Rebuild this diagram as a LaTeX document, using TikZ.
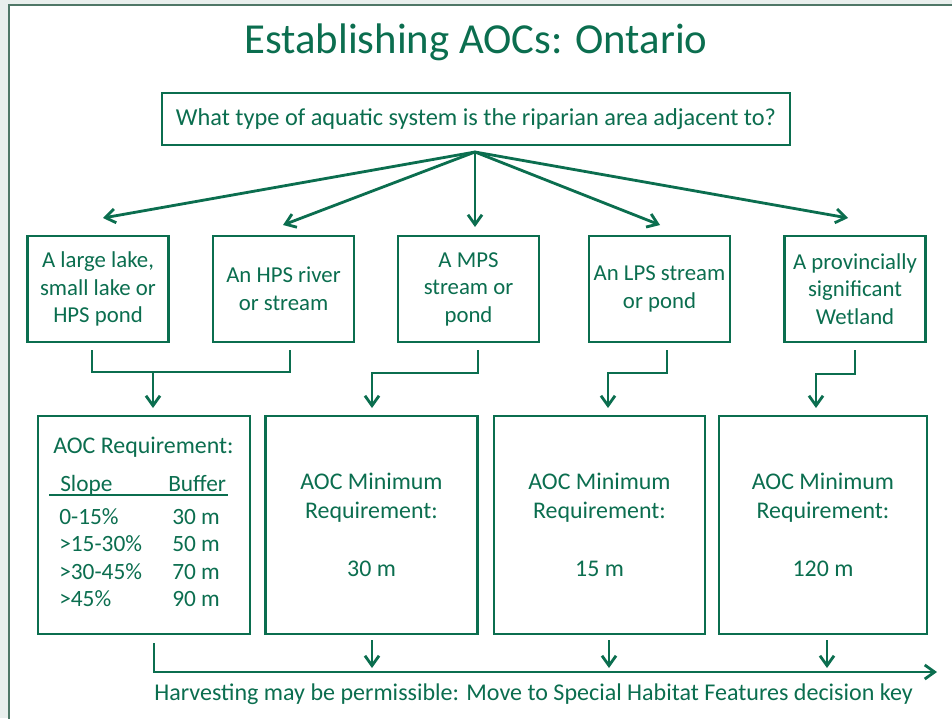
\documentclass[tikz,border=0pt]{standalone}
\usepackage{fontspec}
\setmainfont{Carlito}
\usetikzlibrary{arrows.meta,positioning}

\definecolor{aocgreen}{HTML}{0B6E4F}
\definecolor{slidebg}{HTML}{E9EFED}
\definecolor{slideedge}{HTML}{4F7767}
\newcommand{\pxu}{0.025cm}

\begin{document}
\begin{tikzpicture}[x=0.025cm,y=-0.025cm,
    choice/.style={draw=aocgreen,line width=1.6pt,text=aocgreen,align=center,
        minimum width=141*\pxu,minimum height=106*\pxu,
        font=\fontsize{16.2}{19.6}\selectfont},
    result/.style={draw=aocgreen,line width=1.6pt,text=aocgreen,align=center,
        minimum height=218*\pxu,font=\fontsize{17}{20.6}\selectfont},
    cell/.style={text=aocgreen,inner sep=0pt,anchor=base west,font=\fontsize{16.6}{20.6}\selectfont},
    wire/.style={draw=aocgreen,line width=2pt},
    arr/.style={wire,-{Straight Barb[length=7pt,width=10pt]}}]
    \clip (0,0) rectangle (952,718);
    \fill[slidebg] (0,0) rectangle (952,718);
    \draw[slideedge,fill=white,line width=0.8pt] (9,5) rectangle (970,740);

    \node[text=aocgreen,font=\fontsize{30.4}{36}\selectfont] (title) at (476,42) {Establishing AOCs: Ontario};
    \node[draw=aocgreen,line width=1.6pt,text=aocgreen,minimum width=628*\pxu,minimum height=52*\pxu,
        font=\fontsize{17.3}{20}\selectfont] (question) at (476,119)
        {What type of aquatic system is the riparian area adjacent to?};
    \coordinate (fan) at (475,152);

    % kinds of water
    \node[choice] (lake) at (98,289) {A large lake,\\small lake or\\HPS pond};
    \node[choice] (hps) at (283.5,289) {An HPS river\\or stream};
    \node[choice] (mps) at (468.5,289) {A MPS\\stream or\\pond};
    \node[choice] (lps) at (659.5,289) {An LPS stream\\or pond};
    \node[choice] (wetland) at (855,289) {A provincially\\significant\\Wetland};

    \foreach \tx/\ty in {103/218, 283/225, 475/227, 660/225, 848/218}
        \draw[arr] (fan) -- (\tx,\ty);

    % requirements
    \node[result,minimum width=212*\pxu] (reqA) at (144,525) {};
    \node[result,minimum width=212*\pxu] (reqB) at (371.5,525) {AOC Minimum\\Requirement:\\[20.6pt]30 m};
    \node[result,minimum width=211*\pxu] (reqC) at (599.5,525) {AOC Minimum\\Requirement:\\[20.6pt]15 m};
    \node[result,minimum width=208*\pxu] (reqD) at (823,525) {AOC Minimum\\Requirement:\\[20.6pt]120 m};

    \node[cell,font=\fontsize{17}{21}\selectfont] (reqhead) at (53,453) {AOC Requirement:};
    \node[cell] (slope) at (60,491) {Slope};
    \node[cell] (buffer) at (168,491) {Buffer};
    \draw[aocgreen,line width=1.6pt] (49,495) -- (228,495);
    \foreach \sl/\bu [count=\i] in {0-15\%/30 m, >15-30\%/50 m, >30-45\%/70 m, >45\%/90 m} {
        \node[cell] (slope\i) at (59,524+27.6*\i-27.6) {\sl};
        \node[cell] (buffer\i) at (172,524+27.6*\i-27.6) {\bu};
    }

    \coordinate (joinA) at (153,372);
    \draw[wire] (92,350) -- (92,372) -- (290,372) -- (290,350);
    \draw[arr] (joinA) -- (153,408);
    \draw[arr] (478,350) -- (478,373) -- (372,373) -- (372,408);
    \draw[arr] (667,350) -- (667,373) -- (608,373) -- (608,408);
    \draw[arr] (855,350) -- (855,374) -- (816,374) -- (816,408);

    % outcome
    \coordinate (endline) at (937,672);
    \draw[arr] (154,643) -- (154,672) -- (endline);
    \foreach \ax in {372, 609, 827}
        \draw[arr] (\ax,640) -- (\ax,668);
    \node[text=aocgreen,anchor=base west,inner sep=0pt,font=\fontsize{17.1}{20}\selectfont] (harvest) at (154,700)
        {Harvesting may be permissible: Move to Special Habitat Features decision key};
\end{tikzpicture}
\end{document}
